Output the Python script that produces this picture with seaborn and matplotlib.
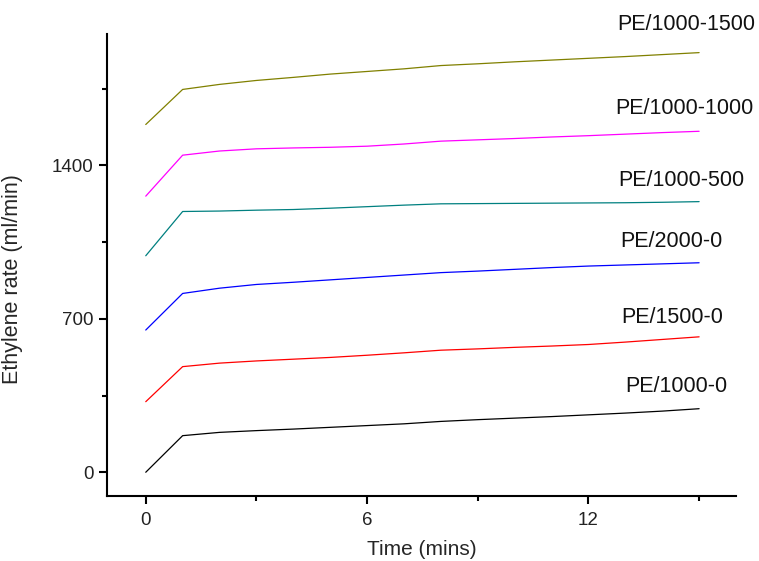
import numpy as np
import pandas as pd
import matplotlib
matplotlib.use("Agg")
import matplotlib.pyplot as plt
import seaborn as sns
from matplotlib.ticker import MultipleLocator

# readings
time_min = list(range(16))
pe_1000_0 = [0, 167, 182, 190, 197, 205, 213, 221, 232, 240, 247, 254, 262, 270, 279, 290]
pe_1500_0 = [322, 482, 498, 508, 516, 524, 534, 545, 557, 563, 570, 576, 583, 594, 606, 618]
pe_2000_0 = [649, 816, 840, 857, 867, 878, 889, 900, 911, 918, 926, 934, 941, 946, 951, 956]
pe_1000_500 = [988, 1190, 1192, 1196, 1199, 1205, 1212, 1219, 1225, 1226, 1227, 1228, 1229, 1230, 1232, 1235]
pe_1000_1000 = [1260, 1447, 1466, 1476, 1480, 1483, 1488, 1498, 1511, 1517, 1523, 1530, 1536, 1543, 1550, 1556]
pe_1000_1500 = [1587, 1747, 1770, 1788, 1802, 1817, 1829, 1841, 1856, 1864, 1873, 1881, 1889, 1897, 1906, 1915]

series_names = ["PE/1000-0", "PE/1500-0", "PE/2000-0",
                "PE/1000-500", "PE/1000-1000", "PE/1000-1500"]
series_vals = [pe_1000_0, pe_1500_0, pe_2000_0,
               pe_1000_500, pe_1000_1000, pe_1000_1500]
colors = ["#000000", "#ff0000", "#0000ff", "#008080", "#ff00ff", "#808000"]

# where the curve labels sit (data units)
label_x = [14.38, 14.28, 14.26, 14.53, 14.61, 14.66]
label_y = [368, 682, 1026, 1307, 1637, 2017]

rows = []
for name, vals in zip(series_names, series_vals):
    for t, v in zip(time_min, vals):
        rows.append({"time": t, "rate": v, "sample": name})
df = pd.DataFrame(rows)

sns.set_style("ticks")
plt.rcParams['font.family'] = ['Liberation Sans', 'DejaVu Sans']

fig = plt.figure(figsize=(7.59, 5.61), dpi=100)
ax = fig.add_axes([0.141, 0.1164, 0.8287, 0.823])

sns.lineplot(data=df, x="time", y="rate", hue="sample",
             palette=dict(zip(series_names, colors)), hue_order=series_names,
             linewidth=0.9, legend=False, ax=ax)

for name, x, y in zip(series_names, label_x, label_y):
    ax.text(x, y, name, ha='center', va='baseline', fontsize=15.5,
            color='#111111', clip_on=False)

ax.set_xlim(-1.05, 16.0)
ax.set_ylim(-107, 2000)
ax.xaxis.set_major_locator(MultipleLocator(6))
ax.xaxis.set_minor_locator(MultipleLocator(3))
ax.yaxis.set_major_locator(MultipleLocator(700))
ax.yaxis.set_minor_locator(MultipleLocator(350))

ax.tick_params(which='major', direction='out', length=6, width=1.5,
               labelsize=13.5, colors='black', labelcolor='#222222')
ax.tick_params(which='minor', direction='out', length=3.5, width=1.5, colors='black')
ax.tick_params(axis='x', which='major', pad=6)

for side in ['top', 'right']:
    ax.spines[side].set_visible(False)
for side in ['left', 'bottom']:
    ax.spines[side].set_linewidth(1.5)
    ax.spines[side].set_color('black')

ax.set_xlabel("Time (mins)", fontsize=15)
ax.set_ylabel("Ethylene rate (ml/min)", fontsize=15.5)
ax.xaxis.set_label_coords(0.5, -0.096)
ax.yaxis.set_label_coords(-0.1335, 0.47)

fig.savefig("out.png", dpi=100)
